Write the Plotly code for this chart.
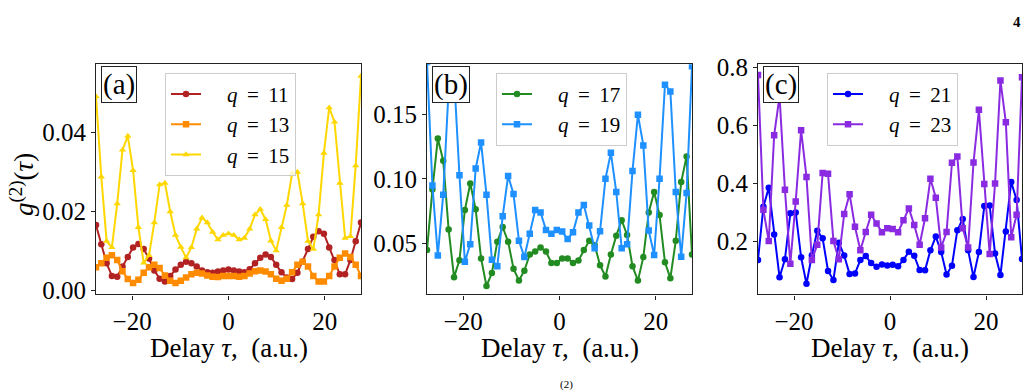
import numpy as np
import plotly.graph_objects as go

# ---------------- data ----------------
q11 = [0.0165, 0.0116, 0.0068, 0.0036, 0.0034, 0.0060, 0.0084, 0.0108, 0.0117, 0.0104,
       0.0080, 0.0050, 0.0029, 0.0022, 0.0036, 0.0052, 0.0064, 0.0072, 0.0068, 0.0060,
       0.0050, 0.0045, 0.0044, 0.0047, 0.0050, 0.0052, 0.0050, 0.0047, 0.0045, 0.0053,
       0.0068, 0.0082, 0.0090, 0.0084, 0.0064, 0.0045, 0.0032, 0.0028, 0.0044, 0.0072,
       0.0104, 0.0135, 0.0149, 0.0143, 0.0108, 0.0076, 0.0040, 0.0040, 0.0076, 0.0124, 0.0171]
q13 = [0.0058, 0.0068, 0.0082, 0.0088, 0.0076, 0.0048, 0.0028, 0.0018, 0.0026, 0.0044,
       0.0058, 0.0064, 0.0056, 0.0037, 0.0024, 0.0018, 0.0024, 0.0032, 0.0040, 0.0044,
       0.0042, 0.0037, 0.0034, 0.0033, 0.0036, 0.0036, 0.0036, 0.0034, 0.0036, 0.0042,
       0.0048, 0.0050, 0.0047, 0.0040, 0.0029, 0.0024, 0.0029, 0.0045, 0.0064, 0.0072,
       0.0060, 0.0036, 0.0022, 0.0022, 0.0036, 0.0060, 0.0082, 0.0093, 0.0084, 0.0064, 0.0036]
q15 = [0.0490, 0.0287, 0.0124, 0.0108, 0.0219, 0.0355, 0.0390, 0.0303, 0.0159, 0.0069,
       0.0088, 0.0171, 0.0267, 0.0271, 0.0199, 0.0139, 0.0109, 0.0082, 0.0108, 0.0155,
       0.0183, 0.0171, 0.0147, 0.0128, 0.0139, 0.0143, 0.0139, 0.0128, 0.0132, 0.0155,
       0.0191, 0.0205, 0.0179, 0.0125, 0.0100, 0.0159, 0.0215, 0.0295, 0.0299, 0.0219,
       0.0124, 0.0104, 0.0191, 0.0347, 0.0462, 0.0426, 0.0271, 0.0132, 0.0136, 0.0315, 0.0542]

q17 = [0.0447, 0.0917, 0.1314, 0.1142, 0.0606, 0.0235, 0.0367, 0.0757, 0.0964, 0.0763,
       0.0381, 0.0166, 0.0267, 0.0511, 0.0625, 0.0511, 0.0301, 0.0208, 0.0285, 0.0412,
       0.0434, 0.0466, 0.0434, 0.0346, 0.0346, 0.0381, 0.0381, 0.0346, 0.0365, 0.0447,
       0.0519, 0.0484, 0.0328, 0.0240, 0.0412, 0.0558, 0.0678, 0.0564, 0.0320, 0.0208,
       0.0391, 0.0739, 0.0898, 0.0718, 0.0351, 0.0227, 0.0519, 0.0975, 0.1174, 0.0412]
q19 = [0.1911, 0.0948, 0.0404, 0.0877, 0.1699, 0.1805, 0.1028, 0.0354, 0.0492, 0.1081,
       0.1283, 0.0877, 0.0370, 0.0320, 0.0710, 0.1023, 0.0882, 0.0519, 0.0391, 0.0572,
       0.0757, 0.0739, 0.0603, 0.0572, 0.0603, 0.0590, 0.0532, 0.0585, 0.0739, 0.0797,
       0.0638, 0.0460, 0.0593, 0.1001, 0.1203, 0.0898, 0.0460, 0.0492, 0.1062, 0.1500,
       0.1261, 0.0598, 0.0407, 0.1001, 0.1734, 0.1681, 0.0898, 0.0394, 0.0890, 0.1877]

q21 = [0.137, 0.320, 0.385, 0.224, 0.077, 0.139, 0.297, 0.300, 0.146, 0.055,
       0.153, 0.237, 0.211, 0.099, 0.068, 0.196, 0.152, 0.088, 0.090, 0.137,
       0.150, 0.126, 0.113, 0.121, 0.118, 0.120, 0.115, 0.137, 0.165, 0.151,
       0.102, 0.101, 0.170, 0.217, 0.164, 0.087, 0.117, 0.239, 0.278, 0.170,
       0.078, 0.164, 0.322, 0.324, 0.159, 0.085, 0.235, 0.405, 0.343, 0.140]
q23 = [0.773, 0.309, 0.202, 0.566, 0.700, 0.378, 0.124, 0.338, 0.583, 0.422,
       0.137, 0.189, 0.436, 0.433, 0.202, 0.139, 0.295, 0.363, 0.251, 0.170,
       0.233, 0.292, 0.262, 0.232, 0.246, 0.243, 0.232, 0.273, 0.314, 0.257,
       0.189, 0.280, 0.416, 0.351, 0.180, 0.233, 0.471, 0.493, 0.246, 0.180,
       0.472, 0.653, 0.398, 0.157, 0.400, 0.754, 0.610, 0.215, 0.292, 0.765]

TAU_MIN, TAU_MAX = -27.5, 27.5
xticks = [-20, 0, 20]

panels = [
    dict(label="(a)", series=[("11", q11, "#b22222", "circle"),
                              ("13", q13, "#ff8c00", "square"),
                              ("15", q15, "#ffd700", "triangle-up")],
         yrange=[-0.0011, 0.0572], yticks=[0.0, 0.02, 0.04], yfmt=".2f"),
    dict(label="(b)", series=[("17", q17, "#228b22", "circle"),
                              ("19", q19, "#1e90ff", "square")],
         yrange=[0.010, 0.1893], yticks=[0.05, 0.10, 0.15], yfmt=".2f"),
    dict(label="(c)", series=[("21", q21, "#0000ff", "circle"),
                              ("23", q23, "#8a2be2", "square")],
         yrange=[0.018, 0.81], yticks=[0.2, 0.4, 0.6, 0.8], yfmt=".1f"),
]

W, H = 1029, 391
left_px = [96, 427, 758]
right_px = [361, 692, 1022]
top_px, bot_px = 57, 299
legend_px = [(165, 66), (496, 66), (827, 66)]

FONT = "Liberation Serif"
fig = go.Figure()
layout = dict(width=W, height=H, margin=dict(l=0, r=0, t=0, b=0),
              paper_bgcolor="white", plot_bgcolor="white",
              font=dict(family=FONT, color="black"), annotations=[])

for k, p in enumerate(panels):
    xa = "xaxis" if k == 0 else f"xaxis{k+1}"
    ya = "yaxis" if k == 0 else f"yaxis{k+1}"
    xref = "x" if k == 0 else f"x{k+1}"
    yref = "y" if k == 0 else f"y{k+1}"
    lg = "legend" if k == 0 else f"legend{k+1}"
    for num, vals, col, sym in p["series"]:
        tau = np.linspace(TAU_MIN, TAU_MAX, len(vals))
        fig.add_trace(go.Scatter(x=tau, y=vals, mode="lines+markers",
                                 name=f"\u2002\u2002<i>q</i>\u2009 = \u2009{num}",
                                 line=dict(color=col, width=2),
                                 marker=dict(symbol=sym, size=6.5, color=col),
                                 xaxis=xref, yaxis=yref, legend=lg))
    layout[xa] = dict(domain=[left_px[k] / W, right_px[k] / W], range=[TAU_MIN, TAU_MAX],
                      anchor=yref, tickvals=xticks, ticks="outside", ticklen=4,
                      tickcolor="#222", showline=True, linecolor="#222", linewidth=1.2,
                      mirror=True, showgrid=False, zeroline=False,
                      tickfont=dict(size=25, family=FONT))
    layout[ya] = dict(domain=[1 - bot_px / H, 1 - top_px / H], range=p["yrange"],
                      anchor=xref, tickvals=p["yticks"], tickformat=p["yfmt"],
                      ticks="outside", ticklen=4, tickcolor="#222",
                      showline=True, linecolor="#222", linewidth=1.2, mirror=True,
                      showgrid=False, zeroline=False, tickfont=dict(size=25, family=FONT))
    lx, ly = legend_px[k]
    layout[lg] = dict(x=lx / W, y=1 - ly / H, xanchor="left", yanchor="top",
                      bgcolor="rgba(255,255,255,0.8)", bordercolor="#cccccc", borderwidth=1,
                      font=dict(size=21, family=FONT), tracegroupgap=0)
    layout["annotations"].append(dict(
        text=p["label"], xref="paper", yref="paper",
        x=(left_px[k] + 5) / W, y=1 - 59 / H, xanchor="left", yanchor="top",
        showarrow=False, font=dict(size=29, family=FONT),
        bordercolor="#222", borderwidth=1, borderpad=1, bgcolor="white"))
    layout["annotations"].append(dict(
        text="Delay <i>τ</i>,  (a.u.)", xref="paper", yref="paper",
        x=(left_px[k] + right_px[k]) / 2 / W, y=1 - 355 / H, xanchor="center", yanchor="middle",
        showarrow=False, font=dict(size=27, family=FONT)))

layout["annotations"].append(dict(
    text="<i>g</i><sup>(2)</sup>(<i>τ</i>)", xref="paper", yref="paper",
    x=22 / W, y=1 - 184 / H, xanchor="center", yanchor="middle", textangle=-90,
    showarrow=False, font=dict(size=27, family=FONT)))
layout["annotations"].append(dict(
    text="<b>4</b>", xref="paper", yref="paper", x=1017 / W, y=1 - 13 / H,
    xanchor="center", yanchor="middle", showarrow=False, font=dict(size=15, family=FONT)))
layout["annotations"].append(dict(
    text="(2)", xref="paper", yref="paper", x=566 / W, y=1 - 385 / H,
    xanchor="center", yanchor="top", showarrow=False, font=dict(size=11, family=FONT)))

fig.update_layout(**layout)
fig.write_html("out.html")
